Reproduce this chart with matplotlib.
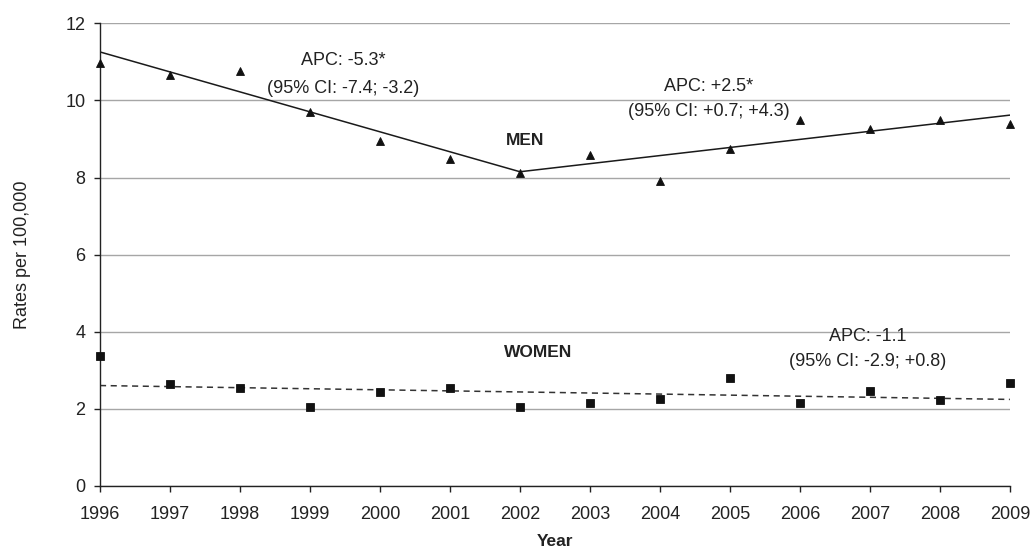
import matplotlib
matplotlib.use("Agg")
import matplotlib.pyplot as plt

# ---------------------------------------------------------------------------
# Data
# ---------------------------------------------------------------------------
years = list(range(1996, 2010))
men_rates = [10.97, 10.67, 10.77, 9.70, 8.96, 8.48, 8.13, 8.58, 7.90, 8.75,
             9.50, 9.26, 9.50, 9.39]
women_rates = [3.37, 2.63, 2.53, 2.05, 2.43, 2.53, 2.05, 2.14, 2.25, 2.79,
               2.14, 2.46, 2.23, 2.66]

# joinpoint fit: values at the joinpoints
men_fit_years = [1996, 2002, 2009]
men_fit_values = [11.26, 8.15, 9.62]
women_fit_years = [1996, 2009]
women_fit_values = [2.60, 2.24]

y_ticks = [0, 2, 4, 6, 8, 10, 12]

plt.rcParams["font.family"] = ["Liberation Sans", "DejaVu Sans"]
TXT = "#222222"

fig = plt.figure(figsize=(10.34, 5.49), dpi=100)
ax = fig.add_axes([0.0967, 0.1153, 0.88, 0.842])

ax.grid(axis="y", color="#a6a6a6", lw=1.0)
ax.set_axisbelow(True)

ax.plot(men_fit_years, men_fit_values, color="#1a1a1a", lw=1.1)
ax.plot(women_fit_years, women_fit_values, color="#333333", lw=1.1,
        ls=(0, (4, 3)))
ax.plot(years, men_rates, ls="none", marker="^", ms=5.6, mew=0.6,
        color="#111111", clip_on=False, zorder=4)
ax.plot(years, women_rates, ls="none", marker="s", ms=5.4, mew=0.6,
        color="#111111", clip_on=False, zorder=4)

ax.set_xlim(1996, 2009)
ax.set_ylim(0, 12)
ax.set_xticks(years)
ax.set_yticks(y_ticks)
ax.tick_params(labelsize=13, length=4.5, width=1, color=TXT, labelcolor=TXT)
ax.tick_params(axis="x", pad=10)
ax.tick_params(axis="y", pad=6)
for s in ["top", "right"]:
    ax.spines[s].set_visible(False)
for s in ["left", "bottom"]:
    ax.spines[s].set_color(TXT)
    ax.spines[s].set_linewidth(1.0)

ax.set_ylabel("Rates per 100,000", fontsize=13, color=TXT, labelpad=25)
ax.set_xlabel("Year", fontsize=12.5, fontweight="bold", color=TXT,
              labelpad=8)

tk = dict(fontsize=13, color=TXT, ha="center", va="center")
ax.text(1999.47, 11.03, "APC: -5.3*", **tk)
ax.text(1999.47, 10.31, "(95% CI: -7.4; -3.2)", **tk)
ax.text(2004.7, 10.37, "APC: +2.5*", **tk)
ax.text(2004.7, 9.72, "(95% CI: +0.7; +4.3)", **tk)
ax.text(2006.97, 3.88, "APC: -1.1", **tk)
ax.text(2006.97, 3.23, "(95% CI: -2.9; +0.8)", **tk)
ax.text(2002.07, 8.95, "MEN", fontsize=12.5, fontweight="bold",
        color=TXT, ha="center", va="center")
ax.text(2002.26, 3.45, "WOMEN", fontsize=12.5, fontweight="bold",
        color=TXT, ha="center", va="center")

fig.savefig("out.png", dpi=100)
